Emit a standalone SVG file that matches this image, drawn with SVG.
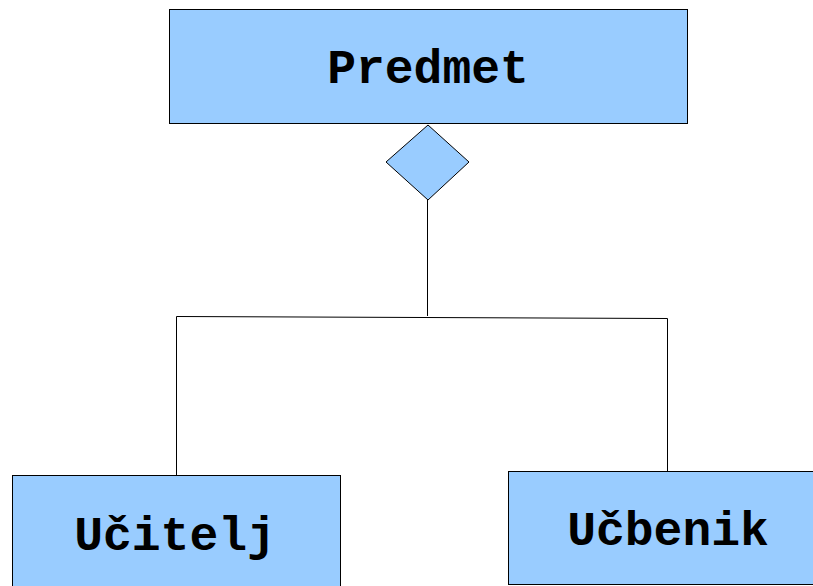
<svg xmlns="http://www.w3.org/2000/svg" width="813" height="586" viewBox="0 0 813 586">
<style>
.box{fill:#99ccff;stroke:#000;stroke-width:1}
.lbl{font-family:"Liberation Mono","DejaVu Sans Mono",monospace;font-weight:bold;font-size:48px;fill:#000;text-anchor:middle}
.conn{fill:none;stroke:#000;stroke-width:1}
</style>
<rect width="813" height="586" fill="#fff"/>
<g id="connectors">
<polyline class="conn" points="427.5,200 427.5,316"/>
<polyline class="conn" points="176.5,475 176.5,316.5 667.5,318.5 667.5,471"/>
</g>
<g id="predmet">
<rect class="box" x="169.5" y="9.5" width="518" height="114"/>
<text class="lbl" x="428" y="83">Predmet</text>
</g>
<g id="diamond">
<polygon class="box" points="428,125 469,162 428,200 386,162"/>
</g>
<g id="ucitelj">
<rect class="box" x="12.5" y="475.5" width="328" height="120"/>
<text class="lbl" x="175" y="550">Učitelj</text>
</g>
<g id="ucbenik">
<rect class="box" x="508.5" y="471.5" width="315" height="113"/>
<text class="lbl" x="668" y="545">Učbenik</text>
</g>
</svg>
